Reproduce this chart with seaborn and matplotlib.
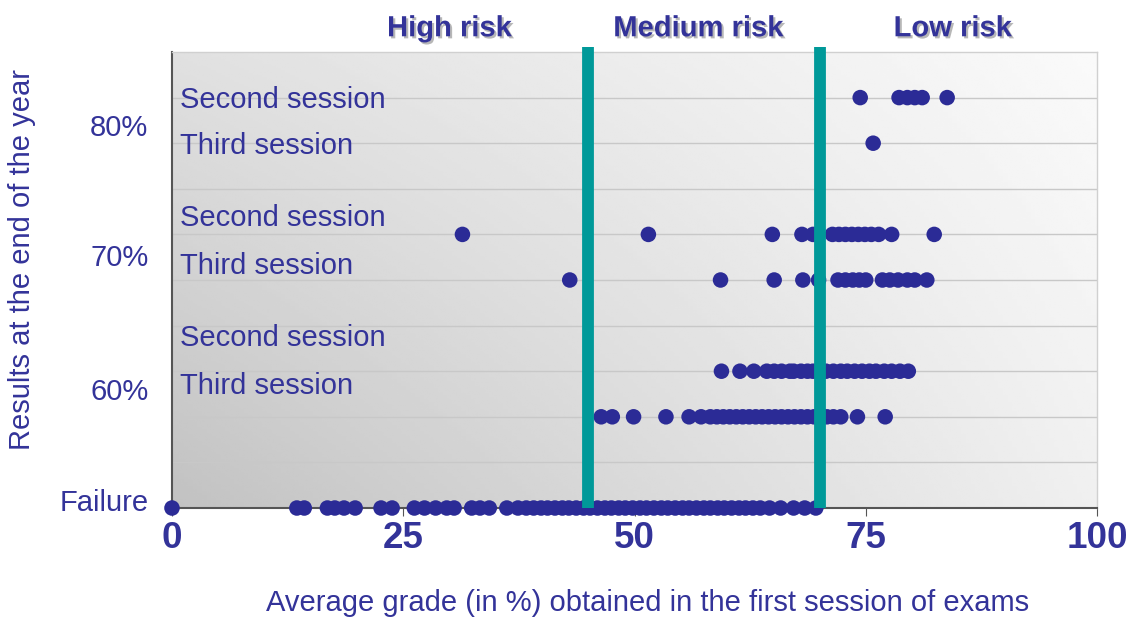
import numpy as np
import pandas as pd
import matplotlib
matplotlib.use("Agg")
import matplotlib.pyplot as plt
import matplotlib.patheffects as pe
import seaborn as sns

# average grade (%) for each student, grouped by end-of-year result row
failure_x = [0, 13.5, 14.3, 16.8, 17.6, 18.6, 19.8, 22.6, 23.8, 26.2, 27.3, 28.5,
             29.7, 30.5, 32.4, 33.3, 34.3, 36.2, 37.4, 38.3, 39.1, 39.9, 40.6,
             41.4, 42.2, 42.9, 43.7, 44.5, 45.2, 46.0, 46.8, 47.5, 48.3, 49.0,
             49.8, 50.6, 51.3, 52.1, 52.9, 53.6, 54.4, 55.2, 55.9, 56.7, 57.5,
             58.2, 59.0, 59.7, 60.5, 61.3, 62.0, 62.8, 63.6, 64.6, 65.8, 67.2,
             68.4, 69.6]
sixty_third_x = [46.4, 47.6, 49.9, 53.4, 55.9, 57.2, 58.2, 58.9, 59.6, 60.3, 61.0,
                 61.7, 62.4, 63.1, 63.8, 64.5, 65.2, 65.9, 66.6, 67.3, 68.0, 68.7,
                 69.4, 70.1, 70.8, 71.5, 72.3, 74.1, 77.1]
sixty_second_x = [59.4, 61.4, 62.9, 64.3, 65.1, 65.9, 66.8, 67.2, 68.0, 68.7, 69.3,
                  70.7, 71.5, 72.3, 73.0, 73.8, 74.6, 75.4, 76.1, 77.0, 77.8, 78.7,
                  79.6]
seventy_third_x = [43.0, 59.3, 65.1, 68.2, 69.9, 72.0, 72.8, 73.6, 74.3, 75.0, 76.8,
                   77.6, 78.5, 79.5, 80.3, 81.6]
seventy_second_x = [31.4, 51.5, 64.9, 68.1, 69.3, 71.4, 72.1, 72.8, 73.5, 74.2, 74.9,
                    75.6, 76.4, 77.8, 82.4]
eighty_third_x = [75.8]
eighty_second_x = [74.4, 78.6, 79.5, 80.3, 81.1, 83.8]

# row level on the y scale
row_levels = {"Failure": 0, "60% third": 2, "60% second": 3, "70% third": 5,
              "70% second": 6, "80% third": 8, "80% second": 9}
row_values = {"Failure": failure_x, "60% third": sixty_third_x,
              "60% second": sixty_second_x, "70% third": seventy_third_x,
              "70% second": seventy_second_x, "80% third": eighty_third_x,
              "80% second": eighty_second_x}

session_labels = ["Second session", "Third session"] * 3
session_label_y = [8.95, 7.94, 6.36, 5.3, 3.73, 2.68]
result_labels = ["Failure", "60%", "70%", "80%"]
result_label_y = [0.18, 2.6, 5.55, 8.4]
risk_labels = ["High risk", "Medium risk", "Low risk"]
risk_label_x = [30.0, 56.9, 84.4]
risk_cuts = [45, 70]
x_ticks = [0, 25, 50, 75, 100]

rows = []
for name, xs in row_values.items():
    for v in xs:
        rows.append({"grade": v, "level": row_levels[name]})
df = pd.DataFrame(rows)

navy = "#333399"
plt.rcParams["font.family"] = ["Liberation Sans", "DejaVu Sans"]

fig = plt.figure(figsize=(11.27, 6.19), dpi=100)
ax = fig.add_axes([0.1526, 0.1793, 0.8208, 0.7367])

# gray gradient background
gx, gy = np.meshgrid(np.linspace(0, 1, 200), np.linspace(0, 1, 200))
shade = 0.76 + 0.18 * gx + 0.12 * gy - 0.08 * gx * gy
shade = np.clip(shade, 0, 0.985)
ax.imshow(shade, cmap="gray", vmin=0, vmax=1, origin="lower",
          extent=[0, 100, 0, 10], aspect="auto", zorder=0)

for yy in range(1, 10):
    ax.axhline(yy, color="#c8c8c8", lw=1, zorder=1)

sns.scatterplot(data=df, x="grade", y="level", ax=ax, color="#2b2b96",
                s=125, edgecolor="none", zorder=3, clip_on=False)

for c in risk_cuts:
    ax.axvline(c, ymin=0, ymax=1.012, color="#009999", lw=8.5, zorder=4,
               clip_on=False, solid_capstyle="butt")

for lab, yy in zip(session_labels, session_label_y):
    ax.text(0.9, yy, lab, color=navy, fontsize=21, va="center", ha="left", zorder=5)

for lab, xx in zip(risk_labels, risk_label_x):
    ax.text(xx, 10.52, lab, color=navy, fontsize=21, fontweight="bold",
            ha="center", va="center", clip_on=False,
            path_effects=[pe.SimplePatchShadow(offset=(1.5, -1.5), shadow_rgbFace="#888888", alpha=0.6),
                          pe.Normal()])

ax.set_xlim(0, 100)
ax.set_ylim(0, 10)
ax.set_xticks(x_ticks)
ax.set_xticklabels([str(t) for t in x_ticks], fontsize=26.5, fontweight="bold", color=navy)
ax.tick_params(axis="x", length=6, color="#555555", pad=3)
ax.set_yticks(result_label_y)
ax.set_yticklabels(result_labels, fontsize=21, color=navy)
ax.tick_params(axis="y", length=0, pad=17)
ax.set_xlabel("")
ax.set_ylabel("")

for side in ["left", "bottom"]:
    ax.spines[side].set_color("#555555")
    ax.spines[side].set_linewidth(1.5)
for side in ["top", "right"]:
    ax.spines[side].set_color("#d0d0d0")
    ax.spines[side].set_linewidth(1)

fig.text(22 / 1127, 1 - 260 / 619, "Results at the end of the year", rotation=90,
         ha="center", va="center", fontsize=21, color=navy)
fig.text(648 / 1127, 1 - 603 / 619,
         "Average grade (in %) obtained in the first session of exams",
         ha="center", va="center", fontsize=21, color=navy)

fig.savefig("out.png", dpi=100)
